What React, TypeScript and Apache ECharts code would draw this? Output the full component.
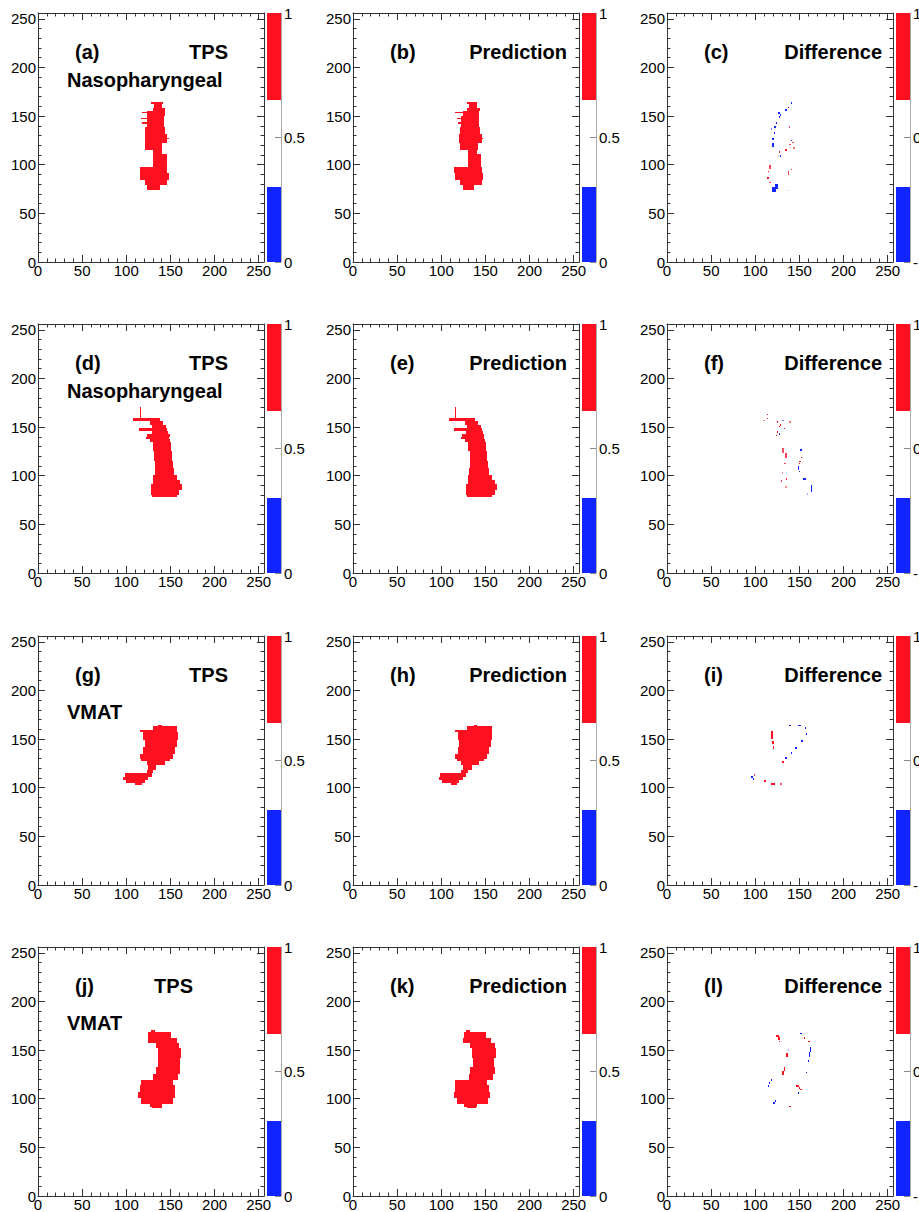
import React, { useEffect, useRef } from 'react';
import * as echarts from 'echarts';

// ---------------- DATA ----------------
// Contour masks, as horizontal runs of bins:
// [yFrom, yTo, xFrom, xTo] in bin units (0..256). Difference runs carry a 5th value (+1 / -1, faded ones smaller).
const AXIS_MIN = 0;
const AXIS_MAX = 256;
const MAJOR_STEP = 50;
const MINOR_STEP = 10;

const TPS_A = [
  [162, 164, 128, 142], [158, 162, 131, 140], [155, 158, 130, 144], [150, 155, 124, 144],
  [153, 154, 118, 130], [139, 150, 123, 143], [147, 148.5, 117, 130], [142, 143.5, 118, 130],
  [132, 139, 121, 144], [122, 132, 121, 146], [126, 127.5, 144, 148], [115, 122, 121, 141],
  [111, 115, 130, 140], [98, 111, 130, 146], [91, 98, 115, 146], [84, 91, 115, 148],
  [79, 84, 121, 146], [74, 79, 123, 138],
];
const PRED_B = [
  [162, 164, 129, 141], [158, 162, 131, 141], [155, 158, 129, 144], [150, 155, 125, 143],
  [153, 154, 116, 127], [139, 150, 122, 143], [147, 148.5, 118, 130], [142, 143.5, 119, 130],
  [132, 139, 121, 144], [122, 132, 120, 146], [126, 127.5, 144, 147], [115, 122, 121, 142],
  [111, 115, 130, 140], [98, 111, 130, 145], [91, 98, 114, 146], [84, 91, 116, 147],
  [79, 84, 121, 146], [74, 79, 125, 137],
];
const DIFF_C = [
  [162, 164, 140, 142, -1], [155.5, 157, 134, 135.5, -1], [152, 154, 126, 127.5, -1],
  [150, 152, 128, 129.5, -1], [148, 150, 126.5, 128, -1], [142, 144, 123.5, 125, -1],
  [138, 139.5, 121.5, 123, -1], [136, 137.5, 118, 119.5, -0.6], [132, 134, 121, 122.5, -1],
  [125.5, 127, 119.5, 121, -1], [118, 122, 119.5, 121, -1], [124, 125.5, 140.5, 142, -1],
  [108, 110, 128, 129.5, -1], [75, 80, 122, 126, -1], [72, 77, 119, 123, -1],
  [158, 159.5, 136.5, 138, 1], [138, 139.5, 138, 139.5, 0.7], [122, 123.5, 142, 143.5, 0.8],
  [120, 121.5, 138.5, 140, 0.8], [116.5, 118, 143, 144.5, 0.6], [114.5, 116, 134, 135.5, 1],
  [112.5, 114, 127, 128.5, 1], [96, 100, 116, 117.5, 0.8], [94.5, 96, 140, 141.5, 0.8],
  [89.5, 94, 136.5, 138, 0.8], [92.5, 94, 114.5, 116, 1], [85, 87, 113.5, 115, 1],
  [81, 82.5, 116, 117.5, 0.8], [72.5, 74, 137, 138.5, 0.4],
];

const TPS_D = [
  [157, 171, 115, 117], [156, 159, 108, 138], [152, 156, 127, 142], [149, 152, 129, 145],
  [146, 149, 114, 146], [143, 146, 129, 147], [140, 143, 124, 149], [138, 140, 122, 148],
  [135, 138, 127, 149], [125, 135, 130, 151], [115, 125, 131, 152], [108, 115, 132, 153],
  [101, 108, 132, 154], [96, 101, 130, 158], [92, 96, 130, 161], [85, 92, 128, 163],
  [80, 85, 128, 160], [78, 80, 129, 158],
];
const PRED_E = [
  [157, 171, 115, 117], [156, 159, 109, 138], [152, 156, 127, 142], [149, 152, 129, 145],
  [146, 149, 114, 146], [143, 146, 128, 147], [140, 143, 124, 148], [138, 140, 122, 148],
  [135, 138, 127, 150], [125, 135, 130, 151], [115, 125, 132, 152], [108, 115, 132, 153],
  [101, 108, 131, 154], [96, 101, 130, 157], [92, 96, 130, 161], [85, 92, 128, 163],
  [80, 85, 128, 161], [78, 80, 129, 158],
];
const DIFF_F = [
  [162, 163.5, 113, 114.5, 1], [158, 159.5, 113, 114.5, 1], [156, 157.5, 109, 110.5, 0.5],
  [154.5, 156, 124.5, 126, 1], [154.5, 156, 138.5, 140, 0.6], [151.5, 153, 128, 129.5, 1],
  [150, 151.5, 126.5, 128, 1], [148, 149.5, 132, 133.5, 1], [144, 145.5, 124.5, 126, 1],
  [140.5, 142, 123.5, 125, 1], [123, 129, 130.5, 132, 0.7], [118, 123, 134, 135.5, 0.8],
  [112, 113.5, 133, 134.5, 0.8], [118, 119.5, 151.5, 153, 1], [114, 115.5, 150, 151.5, 1],
  [112, 113.5, 149, 150.5, 1], [102, 103.5, 130, 131.5, 0.5], [96, 97.5, 134.5, 136, 1],
  [94, 95.5, 129, 130.5, 0.8], [87.5, 89, 134, 135.5, 0.5],
  [156, 157.5, 130.5, 132, -0.6], [142, 143.5, 127, 128.5, -1], [125.5, 127.5, 151, 152.5, -1],
  [106, 109.5, 148, 149.5, -1], [103.5, 105, 149, 150.5, -1], [96, 97.5, 153.5, 157, -1],
  [83.5, 90.5, 163, 164.5, -1], [80.5, 82, 158.5, 160, -0.4],
];

const TPS_G = [
  [163, 165, 136, 141], [159, 163, 130, 158], [157, 159, 115, 158], [149, 157, 119, 159],
  [142, 149, 121, 157], [135, 142, 119, 155], [130, 135, 115, 153], [127, 130, 117, 149],
  [123, 127, 123, 144], [118, 123, 125, 134], [115, 118, 123, 130], [111, 115, 98, 129],
  [108, 111, 96, 125], [105, 108, 100, 121], [103, 105, 110, 118],
];
const PRED_H = [
  [163, 165, 137, 141], [159, 163, 129, 157], [157, 159, 116, 158], [149, 157, 119, 158],
  [142, 149, 120, 156], [135, 142, 119, 154], [130, 135, 116, 152], [127, 130, 118, 148],
  [123, 127, 122, 143], [118, 123, 125, 135], [115, 118, 122, 130], [111, 115, 99, 128],
  [108, 111, 97, 125], [105, 108, 101, 120], [103, 105, 111, 118],
];
const DIFF_I = [
  [150, 158, 118, 120, 1], [145, 148, 119, 121, 1], [140, 143, 120, 121.5, 1],
  [125, 128, 130, 132, 1], [106, 108, 110, 112, 1], [103, 105, 118, 122, 1],
  [103, 105, 128, 130, 0.7], [112, 114, 98, 100, 0.8],
  [163, 164.5, 138, 140, -1], [163, 164.5, 148, 152, -1], [160, 162, 156, 157.5, -1],
  [154, 156, 157, 158.5, -1], [147, 149, 152, 153.5, -1], [140, 142, 145, 147, -1],
  [135, 137, 140, 142, -1], [130, 132, 134, 136, -1], [110, 112, 95, 97, -1], [108, 110, 97, 99, -1],
];

const TPS_J = [
  [169, 171, 128, 133], [162, 169, 125, 151], [157, 162, 125, 157], [152, 157, 134, 160],
  [142, 152, 136, 162], [133, 142, 136, 161], [125, 133, 134, 161], [119, 125, 130, 159],
  [114, 119, 117, 153], [107, 114, 115, 155], [101, 107, 113, 155], [95, 101, 117, 153],
  [92, 95, 127, 141], [90, 92, 129, 140],
];
const PRED_K = [
  [169, 171, 128, 133], [162, 169, 126, 151], [157, 162, 125, 156], [152, 157, 133, 161],
  [142, 152, 135, 162], [133, 142, 136, 160], [125, 133, 133, 161], [119, 125, 131, 159],
  [114, 119, 116, 152], [107, 114, 115, 154], [101, 107, 114, 155], [95, 101, 118, 153],
  [92, 95, 126, 141], [90, 92, 129, 139],
];
const DIFF_L = [
  [163, 165.5, 124, 126.5, 1], [160.5, 163, 125.5, 128.5, 1], [158, 159.5, 127, 128.5, 1],
  [161.5, 163, 155, 156.5, 1], [158, 159.5, 160, 161.5, 1], [143.3, 147, 135, 136.5, 1],
  [129, 133, 132, 133.5, 1], [124.5, 129, 130.5, 132, 1], [112, 114, 146.5, 149.5, 1],
  [110.5, 112, 149, 151, 1], [109, 110.5, 151, 152.5, 1], [91, 93, 138.5, 140, 1],
  [166.5, 168, 151, 152.5, -1], [148, 153.6, 162, 163.5, -1], [143.3, 148, 161, 162.5, -1],
  [138, 140, 159.5, 161, -1], [126, 128, 157.5, 159, -1], [149.5, 151, 136.5, 138, -0.4],
  [118.5, 120, 118, 119.5, -1], [115.5, 117, 115.5, 117, -1], [112, 114, 114, 115.5, -1],
  [105, 106.5, 148, 149.5, -1], [97, 99, 122, 124, -1], [95, 97, 120, 122.5, -1],
];

// Colour-bar levels (blue / white / red bands) and their tick steps
const MAP_BAR_LEVELS = [0, 0.30, 0.65, 1];
const MAP_BAR_STEP = 0.5;
const DIFF_BAR_LEVELS = [-1, -0.40, 0.30, 1];
const DIFF_BAR_STEP = 1;

const PANEL_TAGS = ['(a)', '(b)', '(c)', '(d)', '(e)', '(f)', '(g)', '(h)', '(i)', '(j)', '(k)', '(l)'];
const PANEL_TITLES = ['TPS', 'Prediction', 'Difference'];
const ROW_SUBTITLES = ['Nasopharyngeal', 'Nasopharyngeal', 'VMAT', 'VMAT'];
const PANEL_DATA = [
  TPS_A, PRED_B, DIFF_C,
  TPS_D, PRED_E, DIFF_F,
  TPS_G, PRED_H, DIFF_I,
  TPS_J, PRED_K, DIFF_L,
];

// ---------------- LAYOUT / STYLE ----------------
const PLOT_LEFT = [38, 353, 667];
const PLOT_TOP = [13, 324, 636, 947];
const PLOT_W = 226;
const PLOT_H = 249;
const BAR_GAP = 3;
const BAR_W = 14;
const RED = '#ff1020';
const BLUE = '#1024ff';
const FRAME = '#333';
const FONT = '"Liberation Sans", Arial, Helvetica, sans-serif';
const TITLE_FONT = `bold 20px ${FONT}`;
// title anchors relative to plot left/top
const TAG_DX = 37;
const TITLE_DY = 39;
const TITLE_RIGHT_DX = [190, 214, 215];
const ROW4_TPS_RIGHT_DX = 155;
const SUB_DX = 29;
const SUB_DY = [67, 67, 76, 76];

function runData(runs: number[][]) {
  return runs.map((r) => [r[0], r[1], r[2], r[3], r.length > 4 ? r[4] : 1]);
}

function barData(levels: number[]) {
  const out: number[][] = [];
  for (let i = 0; i < levels.length - 1; i++) out.push([levels[i], levels[i + 1], i]);
  return out;
}

const renderRun = (_p: any, api: any) => {
  const y0 = api.value(0), y1 = api.value(1), x0 = api.value(2), x1 = api.value(3), z = api.value(4);
  const a = api.coord([x0, y1]);
  const b = api.coord([x1, y0]);
  const x = Math.round(a[0]);
  const y = Math.round(a[1]);
  const w = Math.max(1, Math.round(b[0]) - x);
  const h = Math.max(1, Math.round(b[1]) - y);
  const fill = z < 0 ? BLUE : RED;
  return {
    type: 'rect',
    shape: { x, y, width: w, height: h },
    style: { fill, opacity: Math.abs(z) },
  };
};

const BAR_COLORS = [BLUE, 'rgba(0,0,0,0)', RED];
const renderBar = (_p: any, api: any) => {
  const z0 = api.value(0), z1 = api.value(1), ci = api.value(2);
  const a = api.coord([0, z1]);
  const b = api.coord([1, z0]);
  const x = Math.round(a[0]);
  const y = Math.round(a[1]);
  return {
    type: 'rect',
    shape: { x, y, width: Math.round(b[0]) - x, height: Math.round(b[1]) - y },
    style: { fill: BAR_COLORS[ci] },
  };
};

function valueAxis(gridIndex: number, position: string, step: number, tickLen: number, line: boolean, label: boolean, isX: boolean) {
  return {
    type: 'value',
    gridIndex,
    position,
    min: AXIS_MIN,
    max: AXIS_MAX,
    interval: step,
    axisLine: { show: line, onZero: false, lineStyle: { color: FRAME, width: 1 } },
    axisTick: { show: true, inside: true, length: tickLen, lineStyle: { color: FRAME, width: 1 } },
    axisLabel: label
      ? { show: true, margin: isX ? 1 : 2, showMaxLabel: false, fontFamily: FONT, fontSize: 15, color: '#000' }
      : { show: false },
    splitLine: { show: false },
  };
}

function buildOption() {
  const grid: any[] = [];
  const xAxis: any[] = [];
  const yAxis: any[] = [];
  const series: any[] = [];
  const graphic: any[] = [];

  PANEL_DATA.forEach((runs, i) => {
    const r = Math.floor(i / 3);
    const c = i % 3;
    const left = PLOT_LEFT[c];
    const top = PLOT_TOP[r];
    const isDiff = c === 2;

    // plot frame
    const g = grid.length;
    grid.push({ left, top, width: PLOT_W, height: PLOT_H, containLabel: false, outerBoundsMode: 'none' });
    const xi = xAxis.length;
    xAxis.push(valueAxis(g, 'bottom', MAJOR_STEP, 7, true, true, true));
    xAxis.push(valueAxis(g, 'bottom', MINOR_STEP, 3.5, false, false, true));
    xAxis.push(valueAxis(g, 'top', MAJOR_STEP, 7, true, false, true));
    xAxis.push(valueAxis(g, 'top', MINOR_STEP, 3.5, false, false, true));
    const yi = yAxis.length;
    yAxis.push(valueAxis(g, 'left', MAJOR_STEP, 7, true, true, false));
    yAxis.push(valueAxis(g, 'left', MINOR_STEP, 3.5, false, false, false));
    yAxis.push(valueAxis(g, 'right', MAJOR_STEP, 7, true, false, false));
    yAxis.push(valueAxis(g, 'right', MINOR_STEP, 3.5, false, false, false));

    series.push({
      type: 'custom',
      xAxisIndex: xi,
      yAxisIndex: yi,
      data: runData(runs),
      encode: { x: [2, 3], y: [0, 1] },
      renderItem: renderRun,
      silent: true,
      z: 3,
    });

    // colour bar
    const levels = isDiff ? DIFF_BAR_LEVELS : MAP_BAR_LEVELS;
    const gb = grid.length;
    grid.push({ left: left + PLOT_W + BAR_GAP, top, width: BAR_W, height: PLOT_H, containLabel: false, outerBoundsMode: 'none' });
    const bxi = xAxis.length;
    xAxis.push({ type: 'value', gridIndex: gb, min: 0, max: 1, show: false });
    const byi = yAxis.length;
    yAxis.push({
      type: 'value',
      gridIndex: gb,
      position: 'right',
      min: levels[0],
      max: levels[levels.length - 1],
      interval: isDiff ? DIFF_BAR_STEP : MAP_BAR_STEP,
      axisLine: { show: true, onZero: false, lineStyle: { color: '#aaa', width: 1 } },
      axisTick: { show: true, inside: true, length: 6, lineStyle: { color: '#888', width: 1 } },
      axisLabel: { show: true, margin: 3, fontFamily: FONT, fontSize: 15, color: '#000' },
      splitLine: { show: false },
    });
    series.push({
      type: 'custom',
      xAxisIndex: bxi,
      yAxisIndex: byi,
      data: barData(levels),
      encode: { y: [0, 1] },
      renderItem: renderBar,
      silent: true,
      z: 3,
    });

    // texts
    graphic.push({
      type: 'text',
      x: left + TAG_DX,
      y: top + TITLE_DY,
      style: { text: PANEL_TAGS[i], font: TITLE_FONT, fill: '#000', align: 'left', verticalAlign: 'middle', textAlign: 'left', textVerticalAlign: 'middle' },
    });
    const titleRight = r === 3 && c === 0 ? ROW4_TPS_RIGHT_DX : TITLE_RIGHT_DX[c];
    graphic.push({
      type: 'text',
      x: left + titleRight,
      y: top + TITLE_DY,
      style: { text: PANEL_TITLES[c], font: TITLE_FONT, fill: '#000', align: 'right', verticalAlign: 'middle', textAlign: 'right', textVerticalAlign: 'middle' },
    });
    if (c === 0) {
      graphic.push({
        type: 'text',
        x: left + SUB_DX,
        y: top + SUB_DY[r],
        style: { text: ROW_SUBTITLES[r], font: TITLE_FONT, fill: '#000', align: 'left', verticalAlign: 'middle', textAlign: 'left', textVerticalAlign: 'middle' },
      });
    }
  });

  return {
    animation: false,
    backgroundColor: '#fff',
    grid,
    xAxis,
    yAxis,
    series,
    graphic,
  };
}

export default function App() {
  const ref = useRef<HTMLDivElement>(null);
  useEffect(() => {
    if (!ref.current) return;
    const chart = echarts.init(ref.current, undefined, { renderer: 'svg', width: 919, height: 1212 });
    chart.setOption(buildOption() as any);
    return () => chart.dispose();
  }, []);
  return (
    <div
      ref={ref}
      style={{ position: 'absolute', left: 0, top: 0, width: 919, height: 1212, overflow: 'hidden', background: '#fff' }}
    />
  );
}
